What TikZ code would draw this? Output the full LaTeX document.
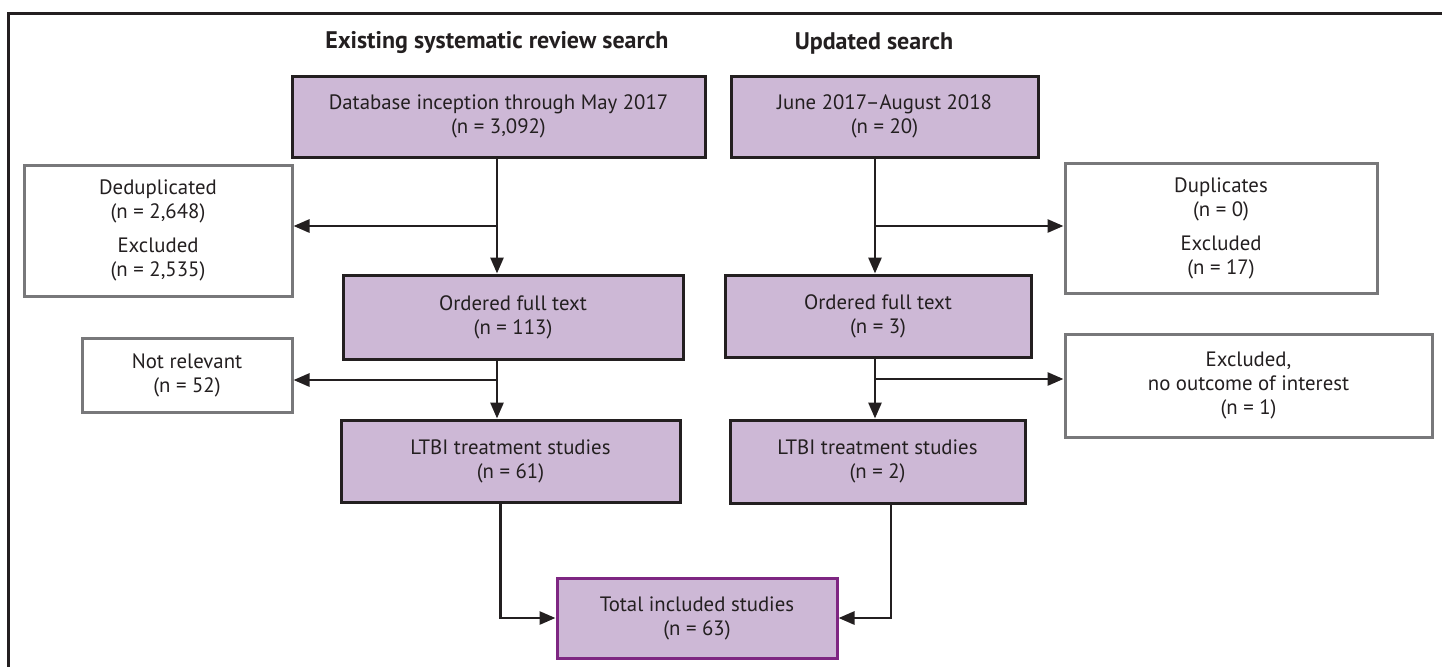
\documentclass[tikz,border=0pt]{standalone}
\usepackage{fontspec}
\setmainfont{PT Sans}
\usetikzlibrary{arrows.meta}
\definecolor{lilac}{RGB}{205, 184, 214}
\definecolor{ink}{RGB}{35, 31, 32}
\definecolor{greyline}{RGB}{120, 120, 122}
\definecolor{plum}{RGB}{126, 38, 130}
\tikzset{
    stagebox/.style={draw=ink, line width=1.5pt, fill=lilac, align=center, text=ink, font=\fontsize{10.4}{12}\selectfont},
    dropbox/.style={draw=greyline, line width=1.5pt, fill=white, align=center, text=ink, font=\fontsize{10.4}{12}\selectfont},
    arr/.style={draw=ink, line width=1.4pt, -{Triangle[length=8pt,width=6.5pt]}},
    heading/.style={font=\bfseries\fontsize{12}{14}\selectfont, text=ink}
}

\begin{document}
\begin{tikzpicture}[x=0.5pt, y=-0.5pt]
    \useasboundingbox (0, 0) rectangle (1442, 666);
    \draw[ink, line width=1.5pt] (8, 13) rectangle (1470, 700);

    \node[heading] (headL) at (497, 43) {Existing systematic review search};
    \node[heading] (headR) at (874, 43) {Updated search};

    % left column
    \node[stagebox, minimum width=206.5pt, minimum height=40.5pt] (srcL) at (498.5, 116.5) {Database inception through May 2017\\(n = 3,092)};
    \node[dropbox, minimum width=134pt, minimum height=65.5pt] (dedup) at (158, 230.5) {Deduplicated\\(n = 2,648)\\[5pt]Excluded\\(n = 2,535)};
    \node[stagebox, minimum width=170pt, minimum height=42pt] (fullL) at (513, 317) {Ordered full text\\(n = 113)};
    \node[dropbox, minimum width=105pt, minimum height=37pt] (notrel) at (187, 375) {Not relevant\\(n = 52)};
    \node[stagebox, minimum width=169.5pt, minimum height=41pt] (ltbiL) at (510.5, 461) {LTBI treatment studies\\(n = 61)};

    % right column
    \node[stagebox, minimum width=153.5pt, minimum height=40.5pt] (srcR) at (884.5, 116.5) {June 2017--August 2018\\(n = 20)};
    \node[dropbox, minimum width=156pt, minimum height=65pt] (dupl) at (1221, 228) {Duplicates\\(n = 0)\\[5pt]Excluded\\(n = 17)};
    \node[stagebox, minimum width=153pt, minimum height=41pt] (fullR) at (878, 316) {Ordered full text\\(n = 3)};
    \node[dropbox, minimum width=183.5pt, minimum height=51.5pt] (noout) at (1248.5, 385.5) {Excluded,\\no outcome of interest\\(n = 1)};
    \node[stagebox, minimum width=147.5pt, minimum height=41.5pt] (ltbiR) at (877.5, 461.5) {LTBI treatment studies\\(n = 2)};

    \node[stagebox, draw=plum, minimum width=140pt, minimum height=40pt] (total) at (697, 618) {Total included studies\\(n = 63)};

    \coordinate (splitA) at (497, 226);
    \coordinate (splitB) at (497, 380);
    \coordinate (splitC) at (875, 226);
    \coordinate (splitD) at (875, 379);

    \draw[arr] (splitA |- srcL.south) -- (splitA |- fullL.north);
    \draw[arr] (splitA) -- (splitA -| dedup.east);
    \draw[arr] (splitB |- fullL.south) -- (splitB |- ltbiL.north);
    \draw[arr] (splitB) -- (splitB -| notrel.east);

    \draw[arr] (splitC |- srcR.south) -- (splitC |- fullR.north);
    \draw[arr] (splitC) -- (splitC -| dupl.west);
    \draw[arr] (splitD |- fullR.south) -- (splitD |- ltbiR.north);
    \draw[arr] (splitD) -- (splitD -| noout.west);

    \draw[arr] ([xshift=-5pt]ltbiL.south) |- (total.west);
    \draw[arr] ([xshift=6.75pt]ltbiR.south) |- (total.east);
\end{tikzpicture}
\end{document}
